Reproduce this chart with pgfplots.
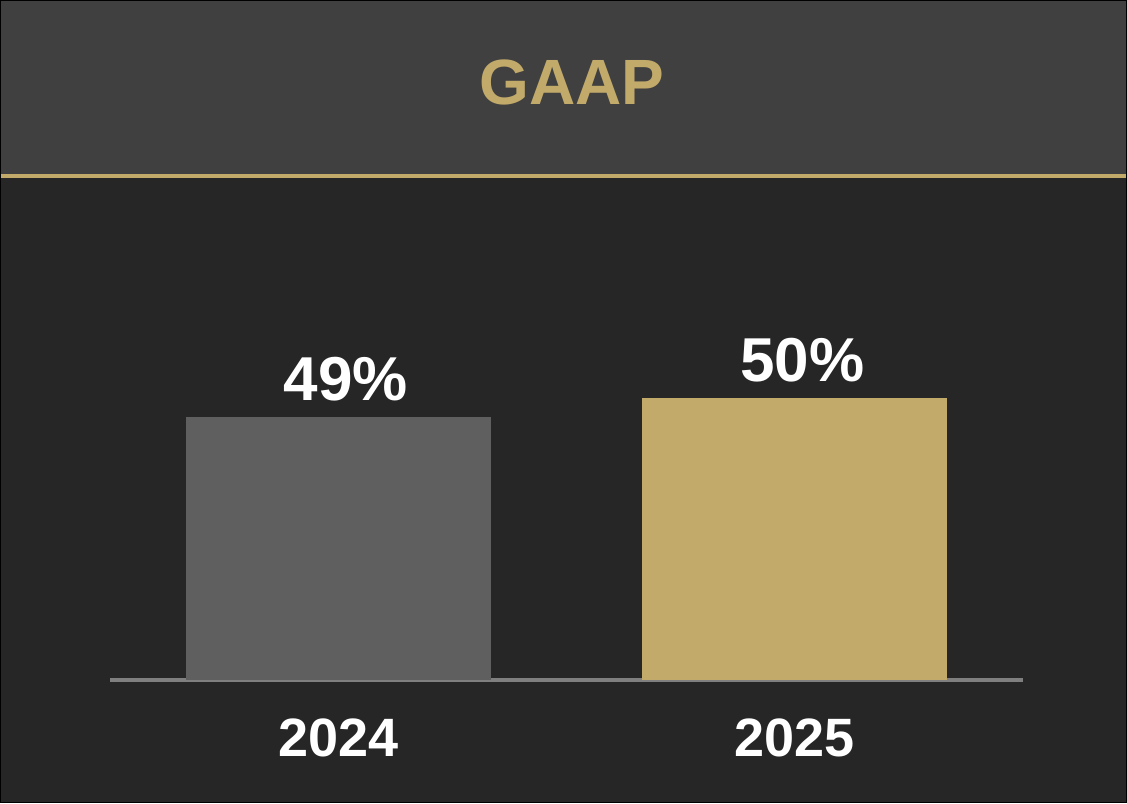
\documentclass[border=0pt]{standalone}
\usepackage{pgfplots}
\pgfplotsset{compat=1.18}
\usepackage{fontspec}
\setmainfont{Liberation Sans}
\definecolor{bg}{HTML}{262626}
\definecolor{hdr}{HTML}{404040}
\definecolor{gold}{HTML}{C2AA6A}
\definecolor{barg}{HTML}{5F5F5F}
\definecolor{basel}{HTML}{7F7F7F}
\begin{document}
\begin{tikzpicture}
\fill[bg] (0pt,0pt) rectangle (563.5pt,401.5pt);
\fill[hdr] (0pt,313.5pt) rectangle (563.5pt,401.5pt);
\fill[gold] (0pt,312.5pt) rectangle (563.5pt,314.5pt);
\node[text=gold, font=\bfseries\fontsize{32}{38}\selectfont, inner sep=0pt] at (286pt,360.5pt) {GAAP};
\begin{axis}[
  at={(55pt,61.5pt)}, anchor=south west,
  scale only axis, width=456.5pt, height=240pt,
  xmin=-0.5, xmax=1.5, ymin=35.16, ymax=60.42,
  axis x line*=bottom, hide y axis,
  x axis line style={draw=basel, line width=1.8pt},
  xtick={0,1}, xticklabels={2024,2025},
  major tick length=0pt,
  xticklabel style={text=white, font=\bfseries\fontsize{27}{32}\selectfont, inner sep=0pt, yshift=-19pt},
  ytick=\empty,
  /pgf/number format/assume math mode=true,
  ybar, bar width=152.5pt, bar shift=0pt,
  nodes near coords={\pgfmathprintnumber[fixed,precision=0,assume math mode=true]{\pgfplotspointmeta}\%},
  every node near coord/.append style={text=white, font=\bfseries\fontsize{31}{37}\selectfont, anchor=south, inner sep=0pt, yshift=7.5pt, xshift=3.75pt},
  clip=false,
]
\addplot[fill=barg, draw=none] coordinates {(0,49)};
\addplot[fill=gold, draw=none] coordinates {(1,50)};
\end{axis}
\draw[black, line width=0.6pt] (0.3pt,0.3pt) rectangle (563.2pt,401.2pt);
\useasboundingbox (0pt,0pt) rectangle (563.5pt,401.5pt);
\end{tikzpicture}
\end{document}
